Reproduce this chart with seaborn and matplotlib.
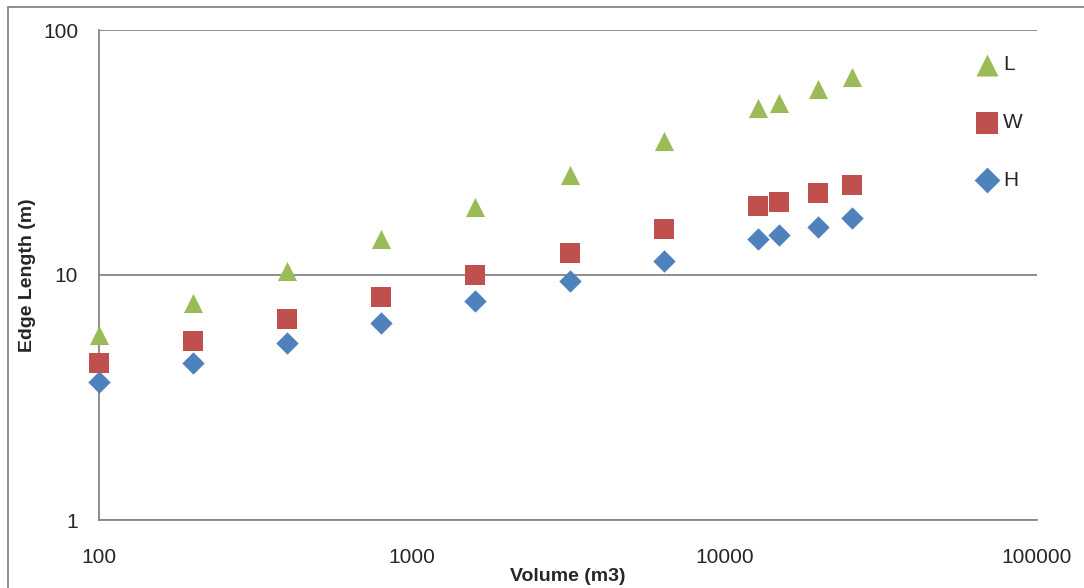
import matplotlib
matplotlib.use("Agg")
import matplotlib.pyplot as plt
import pandas as pd
import seaborn as sns
from matplotlib.patches import Rectangle

# Data
volume = [100, 200, 400, 800, 1600, 3200, 6400, 12800, 15000, 20000, 25600]
length_L = [5.7, 7.7, 10.4, 14.0, 19.0, 25.6, 35.2, 48.0, 50.4, 57.4, 64.3]
width_W = [4.37, 5.38, 6.6, 8.13, 10.0, 12.3, 15.4, 19.1, 19.9, 21.6, 23.3]
height_H = [3.66, 4.37, 5.28, 6.37, 7.83, 9.45, 11.4, 14.0, 14.6, 15.7, 17.1]
series_names = ["L", "W", "H"]

colors = {"L": "#9BBB59", "W": "#C0504D", "H": "#4F81BD"}
markers = {"L": "^", "W": "s", "H": "D"}
sizes = {"L": 190, "W": 200, "H": 130}

df = pd.DataFrame({
    "volume": volume * 3,
    "edge": length_L + width_W + height_H,
    "dim": ["L"] * len(volume) + ["W"] * len(volume) + ["H"] * len(volume),
})

sns.set_style("white")
plt.rcParams["font.family"] = ["Liberation Sans", "DejaVu Sans"]

fig = plt.figure(figsize=(10.84, 5.88), dpi=100)
ax = fig.add_axes([99 / 1084, 1 - 520 / 588, (1037 - 99) / 1084, (520 - 30) / 588])

for name in series_names:
    sub = df[df["dim"] == name]
    sns.scatterplot(data=sub, x="volume", y="edge", color=colors[name],
                    marker=markers[name], s=sizes[name], linewidth=0,
                    label=name, ax=ax, zorder=3, clip_on=False)

ax.set_xscale("log")
ax.set_yscale("log")
ax.set_xlim(100, 100000)
ax.set_ylim(1, 100)
ax.set_xticks([100, 1000, 10000, 100000])
ax.set_xticklabels(["100", "1000", "10000", "100000"])
ax.set_yticks([1, 10, 100])
ax.set_yticklabels(["1", "10", "100"])
ax.minorticks_off()

ax.grid(axis="y", color="#868686", linewidth=1.3)
ax.grid(axis="x", visible=False)
for side in ["top", "right"]:
    ax.spines[side].set_visible(False)
for side in ["left", "bottom"]:
    ax.spines[side].set_color("#868686")
    ax.spines[side].set_linewidth(1.3)
ax.tick_params(axis="both", which="major", direction="out", length=7,
               width=1.3, color="#868686", labelsize=15, pad=8)
ax.tick_params(axis="x", pad=13)

ax.set_xlabel("Volume (m3)", fontsize=14, fontweight="bold", labelpad=1)
ax.set_ylabel("Edge Length (m)", fontsize=14, fontweight="bold", labelpad=5)

ax.legend(loc="upper left", bbox_to_anchor=(0.925, 0.965), frameon=False,
          fontsize=15, labelspacing=1.85, handletextpad=0.15, handlelength=1.2,
          markerscale=1.15, borderaxespad=0)

# chart area border (top and left visible in the reference)
fig.patches.append(Rectangle((8 / 1084, -0.5), 2, 0.5 + 1 - 7 / 588,
                             transform=fig.transFigure, fill=False,
                             edgecolor="#868686", linewidth=1.3))

fig.savefig("out.png", dpi=100)
